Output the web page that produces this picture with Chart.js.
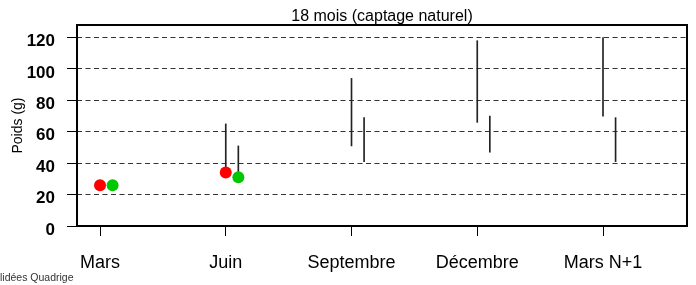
<!DOCTYPE html>
<html>
<head>
<meta charset="utf-8">
<script src="https://cdn.jsdelivr.net/npm/chart.js@4/dist/chart.umd.min.js"></script>
<style>
  body { margin: 0; background: #fff; }
  #wrap { width: 696px; height: 285px; }
</style>
</head>
<body>
<div id="wrap"><canvas id="chart" width="696" height="285"></canvas></div>
<script>
"use strict"

// data
const categories = ["Mars", "Juin", "Septembre", "Décembre", "Mars N+1"];
const yTicks = [0, 20, 40, 60, 80, 100, 120];

// red series: point + min/max range
const redPoint = [26, 34, null, null, null];
const redLow = [null, 34, 51, 66, 70];
const redHigh = [null, 65, 94, 118, 120];

// green series
const greenPoint = [26, 31, null, null, null];
const greenLow = [null, 31, 41, 47, 41];
const greenHigh = [null, 51, 69, 70, 69];

const chartTitle = "18 mois (captage naturel)";
const yTitle = "Poids (g)";
const footNote = "lidées Quadrige";

const FONT = "'Liberation Sans', Arial, sans-serif";
const greenShift = 0.1; // green series sits a little right of the category

function pointsOf(values, shift) {
    const out = [];
    for (let i = 0; i < values.length; i++) {
        if (values[i] !== null) out.push({ x: i + shift, y: values[i] });
    }
    return out;
}

function rangesOf(low, high, shift) {
    const out = [];
    for (let i = 0; i < low.length; i++) {
        if (low[i] !== null) out.push({ x: i + shift, y: [low[i], high[i]] });
    }
    return out;
}

// box round the plot, title and note
const extras = {
    id: "extras",
    afterDatasetsDraw(chart) {
        const ctx = chart.ctx;
        const a = chart.chartArea;
        ctx.save();
        ctx.strokeStyle = "#000";
        ctx.lineWidth = 2;
        ctx.strokeRect(a.left, a.top, a.right - a.left, a.bottom - a.top);
        ctx.restore();
    },
    afterDraw(chart) {
        const ctx = chart.ctx;
        const a = chart.chartArea;
        ctx.save();
        ctx.fillStyle = "#000";
        ctx.font = "16px " + FONT;
        ctx.textAlign = "center";
        ctx.textBaseline = "middle";
        ctx.fillText(chartTitle, (a.left + a.right) / 2, 17);
        ctx.fillStyle = "#333";
        ctx.font = "10.5px " + FONT;
        ctx.textAlign = "left";
        ctx.fillText(footNote, 0, 278);
        ctx.restore();
    }
};

const rangeStyle = {
    type: "bar",
    backgroundColor: "#222",
    borderWidth: 0,
    barThickness: 1,
    grouped: false,
    order: 2
};

const data = {
    datasets: [
        Object.assign({ label: "red range", data: rangesOf(redLow, redHigh, 0) }, rangeStyle),
        Object.assign({ label: "green range", data: rangesOf(greenLow, greenHigh, greenShift) }, rangeStyle),
        {
            type: "scatter",
            label: "red",
            data: pointsOf(redPoint, 0),
            backgroundColor: "#ff0000",
            borderWidth: 0,
            pointRadius: 6,
            order: 1
        },
        {
            type: "scatter",
            label: "green",
            data: pointsOf(greenPoint, greenShift),
            backgroundColor: "#00c800",
            borderWidth: 0,
            pointRadius: 6,
            order: 1
        }
    ]
};

const config = {
    type: "scatter",
    data: data,
    options: {
        responsive: false,
        animation: false,
        layout: { padding: { top: 25, right: 9, bottom: 0, left: 0 } },
        plugins: {
            legend: { display: false },
            tooltip: { enabled: false },
            title: { display: false }
        },
        scales: {
            x: {
                type: "linear",
                offset: false,
                min: -0.183,
                max: 4.668,
                afterBuildTicks: (scale) => {
                    scale.ticks = categories.map((c, i) => ({ value: i }));
                },
                afterFit: (scale) => { scale.height = 59; },
                grid: {
                    offset: false,
                    drawOnChartArea: false,
                    drawTicks: true,
                    tickLength: 10,
                    tickColor: "#000",
                    tickWidth: 1
                },
                border: { display: false },
                ticks: {
                    padding: 16,
                    color: "#000",
                    font: { family: FONT, size: 18 },
                    maxRotation: 0,
                    autoSkip: false,
                    callback: (v) => categories[v]
                }
            },
            y: {
                type: "linear",
                min: 0,
                max: 128,
                afterBuildTicks: (scale) => {
                    scale.ticks = yTicks.map((v) => ({ value: v }));
                },
                afterFit: (scale) => { scale.width = 77; },
                grid: {
                    color: "#333",
                    lineWidth: 1,
                    borderDash: [5, 3.5],
                    tickLength: 10,
                    tickColor: "#000",
                    tickWidth: 1,
                    tickBorderDash: []
                },
                border: { display: false, dash: [5, 3.5] },
                ticks: {
                    padding: 12,
                    labelOffset: 4,
                    color: "#000",
                    font: { family: FONT, size: 17, weight: "bold" },
                    callback: (v) => v
                },
                title: {
                    display: true,
                    text: yTitle,
                    color: "#000",
                    font: { family: FONT, size: 14 },
                    padding: { top: 10, bottom: 0 }
                }
            }
        }
    },
    plugins: [extras]
};

const myChart = new Chart(document.getElementById("chart"), config);
</script>
</body>
</html>
